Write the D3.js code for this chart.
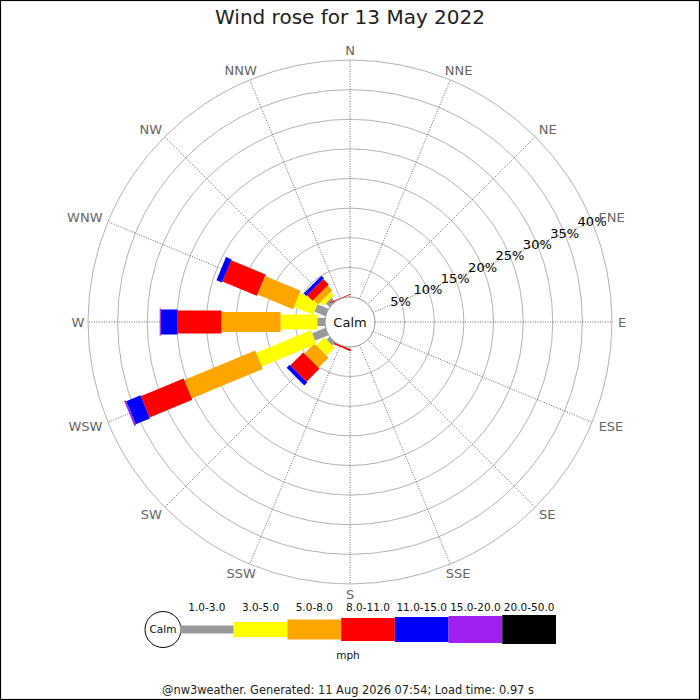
<!DOCTYPE html>
<html>
<head>
<meta charset="utf-8">
<script src="https://cdn.jsdelivr.net/npm/d3@7/dist/d3.min.js"></script>
<style>
html,body{margin:0;padding:0;background:#fff;}
svg{display:block;font-family:"DejaVu Sans",sans-serif;}
</style>
</head>
<body>
<svg id="chart" width="700" height="700"></svg>
<script>
// ---------- data ----------
const directions = ['N','NNE','NE','ENE','E','ESE','SE','SSE','S','SSW','SW','WSW','W','WNW','NW','NNW'];
const directionAngles = [0,22.5,45,67.5,90,112.5,135,157.5,180,202.5,225,247.5,270,292.5,315,337.5];
const speedBins = ['1.0-3.0','3.0-5.0','5.0-8.0','8.0-11.0','11.0-15.0','15.0-20.0','20.0-50.0'];
//                 N  NNE NE ENE E ESE SE SSE S  SSW  SW   WSW   W    WNW  NW   NNW
const pct_1_3   = [0, 0,  0, 0,  0, 0,  0, 0,  0, 0,   0.7, 2.45, 1.3, 2.0, 0.9, 0];
const pct_3_5   = [0, 0,  0, 0,  0, 0,  0, 0,  0, 0,   1.9, 9.95, 6.2, 3.5, 0.8, 0];
const pct_5_8   = [0, 0,  0, 0,  0, 0,  0, 0,  0, 0,   2.4, 13.0, 10.0,6.5, 1.1, 0];
const pct_8_11  = [0, 0,  0, 0,  0, 0,  0, 0,  0, 0.3, 3.1, 7.8,  7.4, 6.3, 1.3, 0.15];
const pct_11_15 = [0, 0,  0, 0,  0, 0,  0, 0,  0, 0,   0.7, 2.6,  2.8, 1.0, 0.6, 0];
const pct_15_20 = [0, 0,  0, 0,  0, 0,  0, 0,  0, 0,   0,   0.3,  0.2, 0,   0,   0];
const pct_20_50 = [0, 0,  0, 0,  0, 0,  0, 0,  0, 0,   0,   0,    0,   0,   0,   0];
const radialTicks = [5,10,15,20,25,30,35,40];
const titleText = 'Wind rose for 13 May 2022';
const unitText = 'mph';
const calmText = 'Calm';
const footerText = '@nw3weather. Generated: 11 Aug 2026 07:54; Load time: 0.97 s';

// ---------- styles ----------
const binColors = ['#999999','#ffff00','#ffa500','#ff0000','#0000ff','#a020f0','#000000'];
const binWidths = [8,15,20,23,25,27,29];

const series = [pct_1_3,pct_3_5,pct_5_8,pct_8_11,pct_11_15,pct_15_20,pct_20_50];

const W = 700, H = 700, cx = 350, cy = 322;
const svg = d3.select('#chart');

svg.append('rect').attr('x',0.5).attr('y',0.5).attr('width',W-1).attr('height',H-1)
  .attr('fill','#fff').attr('stroke','#000').attr('stroke-width',1.2);

const r = d3.scaleLinear().domain([0,40]).range([25,262]);
const rad = a => a*Math.PI/180;

const g = svg.append('g').attr('transform',`translate(${cx},${cy})`);

// rings
g.selectAll('circle.ring').data(radialTicks).join('circle')
  .attr('class','ring').attr('r',d=>r(d)).attr('fill','none')
  .attr('stroke','#aaaaaa').attr('stroke-width',0.9);

// spokes
g.selectAll('line.spoke').data(directionAngles).join('line')
  .attr('class','spoke')
  .attr('x1',a=>r(0)*Math.sin(rad(a))).attr('y1',a=>-r(0)*Math.cos(rad(a)))
  .attr('x2',a=>r(40)*Math.sin(rad(a))).attr('y2',a=>-r(40)*Math.cos(rad(a)))
  .attr('stroke','#444').attr('stroke-width',0.8).attr('stroke-dasharray','1,1.5');

// bars
const segs = [];
directions.forEach((dname,i)=>{
  let cum = 0;
  series.forEach((s,j)=>{
    const v = s[i];
    if (v>0) segs.push({dir:i,bin:j,start:cum,end:cum+v});
    cum += v;
  });
});
g.selectAll('rect.seg').data(segs).join('rect')
  .attr('class','seg')
  .attr('transform',d=>`rotate(${directionAngles[d.dir]-90})`)
  .attr('x',d=>r(d.start))
  .attr('y',d=>-binWidths[d.bin]/2)
  .attr('width',d=>Math.max(0.8,r(d.end)-r(d.start)))
  .attr('height',d=>binWidths[d.bin])
  .attr('fill',d=>binColors[d.bin]);

// calm circle
g.append('circle').attr('r',r(0)).attr('fill','#fff').attr('stroke','#999').attr('stroke-width',1);
g.append('text').attr('text-anchor','middle').attr('dy','0.35em')
  .attr('font-size',13).attr('fill','#111').text(calmText);

// percent labels along ENE
g.selectAll('text.pct').data(radialTicks).join('text')
  .attr('class','pct')
  .attr('x',d=>r(d)*Math.sin(rad(67.5)))
  .attr('y',d=>-r(d)*Math.cos(rad(67.5)))
  .attr('text-anchor','middle').attr('dy','0.35em')
  .attr('font-size',13).attr('fill','#000')
  .text(d=>d+'%');

// direction labels
const dl = g.selectAll('text.dir').data(directions).join('text')
  .attr('class','dir').attr('text-anchor','middle').attr('dy','0.35em')
  .attr('font-size',13).attr('fill','#666').text(d=>d);
dl.each(function(d,i){
  const a = rad(directionAngles[i]);
  const w = this.getComputedTextLength();
  const s = Math.sin(a);
  const shift = Math.abs(s) > 0.99 ? 0 : s*w/2*0.85;
  d3.select(this).attr('x',272*s + shift).attr('y',-272*Math.cos(a));
});

// title
svg.append('text').attr('x',cx).attr('y',17).attr('dy','0.35em')
  .attr('text-anchor','middle').attr('font-size',20).attr('fill','#222').text(titleText);

// legend
const lx = d3.scaleBand().domain(speedBins).range([180,556]);
const ly = 629.5;
const leg = svg.append('g');
leg.append('circle').attr('cx',163).attr('cy',ly).attr('r',18).attr('fill','#fff').attr('stroke','#000');
leg.append('text').attr('x',163).attr('y',ly).attr('dy','0.35em').attr('text-anchor','middle')
  .attr('font-size',10.5).attr('fill','#111').text(calmText);
leg.selectAll('rect').data(speedBins).join('rect')
  .attr('x',d=>lx(d)).attr('width',lx.bandwidth())
  .attr('y',(d,i)=>ly-binWidths[i]/2).attr('height',(d,i)=>binWidths[i])
  .attr('fill',(d,i)=>binColors[i]);
leg.selectAll('text.bl').data(speedBins).join('text')
  .attr('class','bl').attr('x',d=>lx(d)+lx.bandwidth()/2).attr('y',607).attr('dy','0.35em')
  .attr('text-anchor','middle').attr('font-size',10.5).attr('fill','#111').text(d=>d);
leg.append('text').attr('x',348).attr('y',655).attr('dy','0.35em').attr('text-anchor','middle')
  .attr('font-size',10.5).attr('fill','#111').text(unitText);

// footer
svg.append('text').attr('x',348).attr('y',690).attr('dy','0.35em').attr('text-anchor','middle')
  .attr('font-size',11.4).attr('fill','#222').text(footerText);
</script>
</body>
</html>
